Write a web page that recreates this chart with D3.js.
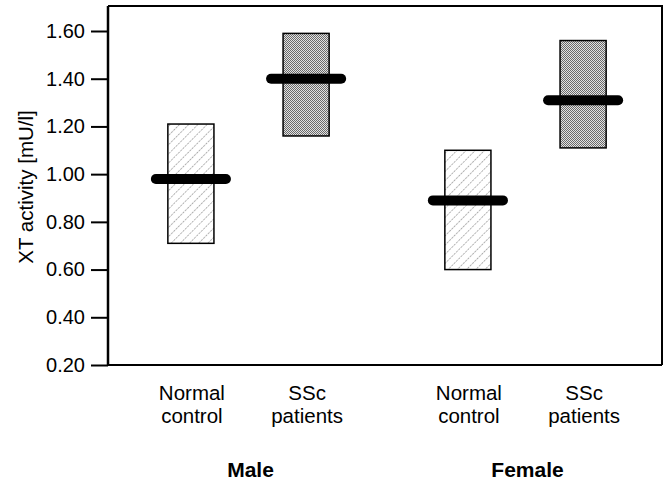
<!DOCTYPE html>
<html>
<head>
<meta charset="utf-8">
<script src="https://cdn.jsdelivr.net/npm/d3@7"></script>
<style>
  html, body { margin: 0; padding: 0; background: #fff; }
  svg { display: block; }
  text { font-family: "Liberation Sans", Arial, Helvetica, sans-serif; fill: #000; }
</style>
</head>
<body>
<svg id="chart" width="667" height="484"></svg>
<script>
// ---- data ----
const groups = ["Male", "Female"];
const conditions = ["Normal control", "SSc patients"];
const conditionLines = [["Normal", "control"], ["SSc", "patients"]];
// order: Male/Normal, Male/SSc, Female/Normal, Female/SSc
const boxLow    = [0.71, 1.16, 0.60, 1.11];
const boxHigh   = [1.21, 1.59, 1.10, 1.56];
const boxMedian = [0.98, 1.40, 0.89, 1.31];
const yTicks = [0.20, 0.40, 0.60, 0.80, 1.00, 1.20, 1.40, 1.60];
const yTitle = "XT activity [mU/l]";

const rows = [];
groups.forEach((g, gi) => conditions.forEach((c, ci) => {
  const i = gi * conditions.length + ci;
  rows.push({ group: g, cond: c, ci, low: boxLow[i], high: boxHigh[i], med: boxMedian[i] });
}));

// ---- layout ----
const svg = d3.select("#chart");
const plotLeft = 108, plotRight = 662, plotBottom = 365;
const y = d3.scaleLinear().domain([0.2, 1.6]).range([plotBottom, 31]);
const plotTop = y(1.705);

const xGroup = d3.scaleBand().domain(groups).range([110, 664]).paddingInner(0.1).paddingOuter(0.05);
const xCond = d3.scaleBand().domain(conditions).range([0, xGroup.bandwidth()]).paddingInner(0.6).paddingOuter(0.382);

// ---- patterns ----
const defs = svg.append("defs");
const hatch = defs.append("pattern").attr("id", "hatch").attr("patternUnits", "userSpaceOnUse")
  .attr("width", 6.5).attr("height", 6.5).attr("patternTransform", "rotate(45)");
hatch.append("rect").attr("width", 6.5).attr("height", 6.5).attr("fill", "#fff");
hatch.append("line").attr("x1", 0).attr("y1", 0).attr("x2", 0).attr("y2", 6.5)
  .attr("stroke", "#555").attr("stroke-width", 0.9).attr("stroke-dasharray", "2.2,1");
const dots = defs.append("pattern").attr("id", "dots").attr("patternUnits", "userSpaceOnUse")
  .attr("width", 2).attr("height", 2);
dots.append("rect").attr("width", 2).attr("height", 2).attr("fill", "#e2e2e2");
dots.append("rect").attr("x", 0).attr("y", 0).attr("width", 1).attr("height", 1).attr("fill", "#6a6a6a");
dots.append("rect").attr("x", 1).attr("y", 1).attr("width", 1).attr("height", 1).attr("fill", "#6a6a6a");

// ---- frame ----
svg.append("path")
  .attr("d", `M${plotLeft},${plotTop}H${plotRight}V${plotBottom}`)
  .attr("fill", "none").attr("stroke", "#000").attr("stroke-width", 2);
svg.append("line").attr("x1", plotLeft).attr("x2", plotRight).attr("y1", plotBottom).attr("y2", plotBottom)
  .attr("stroke", "#000").attr("stroke-width", 2);

// ---- y axis ----
const yAxis = d3.axisLeft(y).tickValues(yTicks).tickFormat(d3.format(".2f")).tickSize(17).tickPadding(6);
const gy = svg.append("g").attr("transform", `translate(${plotLeft},0)`).call(yAxis);
gy.select(".domain").remove();
gy.append("line").attr("x1", 0).attr("x2", 0).attr("y1", plotTop).attr("y2", plotBottom)
  .attr("stroke", "#000").attr("stroke-width", 2.5);
gy.selectAll(".tick line").attr("stroke", "#000").attr("stroke-width", 2);
gy.selectAll(".tick text").attr("fill", "#000").style("font-size", "20px")
  .style("font-family", "'Liberation Sans', Arial, sans-serif");

svg.append("text")
  .attr("transform", `translate(33,187) rotate(-90)`)
  .attr("text-anchor", "middle").style("font-size", "20.5px")
  .text(yTitle);

// ---- boxes ----
const xOf = d => xGroup(d.group) + xCond(d.cond);
svg.selectAll("rect.box").data(rows).join("rect")
  .attr("class", "box")
  .attr("x", xOf)
  .attr("width", xCond.bandwidth())
  .attr("y", d => y(d.high))
  .attr("height", d => y(d.low) - y(d.high))
  .attr("fill", d => d.ci === 0 ? "url(#hatch)" : "url(#dots)")
  .attr("stroke", "#000").attr("stroke-width", 1.5);

svg.selectAll("line.med").data(rows).join("line")
  .attr("class", "med")
  .attr("x1", d => xOf(d) - 12)
  .attr("x2", d => xOf(d) + xCond.bandwidth() + 12)
  .attr("y1", d => y(d.med)).attr("y2", d => y(d.med))
  .attr("stroke", "#000").attr("stroke-width", 10).attr("stroke-linecap", "round");

// ---- category labels ----
const lab = svg.selectAll("text.cat").data(rows).join("text")
  .attr("class", "cat")
  .attr("text-anchor", "middle").style("font-size", "20.5px")
  .attr("x", d => xOf(d) + xCond.bandwidth() / 2 + 1)
  .attr("y", 400);
lab.selectAll("tspan").data(d => conditionLines[d.ci]).join("tspan")
  .attr("x", function () { return d3.select(this.parentNode).attr("x"); })
  .attr("dy", (d, i) => i === 0 ? 0 : 23)
  .text(d => d);

svg.selectAll("text.grp").data(groups).join("text")
  .attr("class", "grp")
  .attr("text-anchor", "middle").style("font-size", "21px").style("font-weight", "bold")
  .attr("x", g => xGroup(g) + xGroup.bandwidth() / 2 + 2)
  .attr("y", 477)
  .text(g => g);
</script>
</body>
</html>
